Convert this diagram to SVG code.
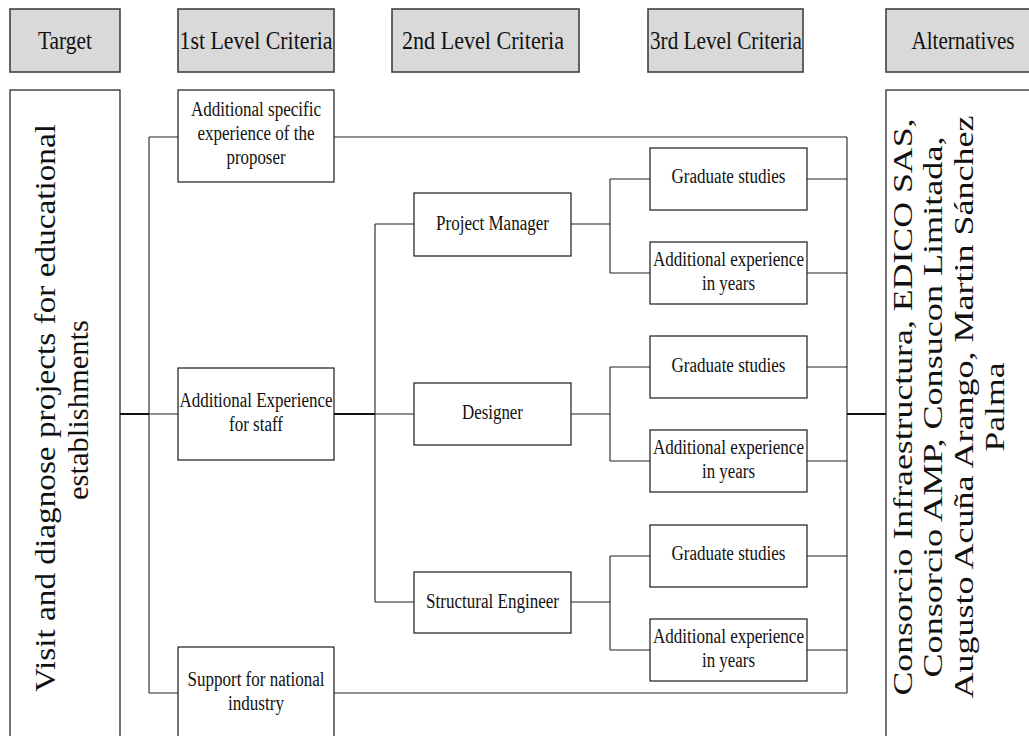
<svg xmlns="http://www.w3.org/2000/svg" width="1029" height="736" viewBox="0 0 1029 736">
<style>
.hdr{fill:#d9d9d9;stroke:#404040;stroke-width:1.6}
.box{fill:#fff;stroke:#1a1a1a;stroke-width:1.2}
.t{font-family:"Liberation Serif","Times New Roman",serif;font-size:20px;fill:#111;text-anchor:middle}
.h{font-size:25.5px}
.big{font-size:29px}
.alt{font-size:27.5px}
.c{fill:none;stroke:#222;stroke-width:1.1}
.ct{fill:none;stroke:#111;stroke-width:2}
</style>
<rect width="1029" height="736" fill="#fff"/>

<g id="hdr-target"><rect class="hdr" x="10" y="9" width="110" height="63"/><text class="t h" x="65" y="49" textLength="54" lengthAdjust="spacingAndGlyphs">Target</text></g>
<g id="hdr-level1"><rect class="hdr" x="178" y="9" width="156" height="63"/><text class="t h" x="256" y="49" textLength="153" lengthAdjust="spacingAndGlyphs">1st Level Criteria</text></g>
<g id="hdr-level2"><rect class="hdr" x="392" y="9" width="187" height="63"/><text class="t h" x="483" y="49" textLength="162" lengthAdjust="spacingAndGlyphs">2nd Level Criteria</text></g>
<g id="hdr-level3"><rect class="hdr" x="648" y="9" width="155" height="63"/><text class="t h" x="726" y="49" textLength="152" lengthAdjust="spacingAndGlyphs">3rd Level Criteria</text></g>
<g id="hdr-alternatives"><rect class="hdr" x="886" y="9" width="160" height="63"/><text class="t h" x="963" y="49" textLength="103" lengthAdjust="spacingAndGlyphs">Alternatives</text></g>

<g id="connectors">
<path class="c" d="M149,137V693 M149,137H178 M149,693H178 M149,414H178 M334,137H847 M334,693H847 M847,137V693"/>
<path class="ct" d="M120,414H149 M334,414H375 M847,414H886"/>
<path class="c" d="M375,224V602 M375,224H414 M375,414H414 M375,602H414"/>
<path class="c" d="M571,224H610 M610,179V273 M610,179H650 M610,273H650"/>
<path class="c" d="M571,414H610 M610,367V461 M610,367H650 M610,461H650"/>
<path class="c" d="M571,602H610 M610,556V650 M610,556H650 M610,650H650"/>
<path class="c" d="M807,179H847 M807,273H847 M807,367H847 M807,461H847 M807,556H847 M807,650H847"/>
</g>

<g id="target">
<rect class="box" x="10" y="90" width="110" height="660"/>
<text class="t big" transform="translate(55,408) rotate(-90)" textLength="568" lengthAdjust="spacingAndGlyphs">Visit and diagnose projects for educational</text>
<text class="t big" transform="translate(88,410) rotate(-90)" textLength="180" lengthAdjust="spacingAndGlyphs">establishments</text>
</g>

<g id="alternatives">
<rect class="box" x="886" y="90" width="160" height="660"/>
<text class="t alt" transform="translate(912,407) rotate(-90)" textLength="577" lengthAdjust="spacingAndGlyphs">Consorcio Infraestructura, EDICO SAS,</text>
<text class="t alt" transform="translate(942,407) rotate(-90)" textLength="541" lengthAdjust="spacingAndGlyphs">Consorcio AMP, Consucon Limitada,</text>
<text class="t alt" transform="translate(973,407) rotate(-90)" textLength="583" lengthAdjust="spacingAndGlyphs">Augusto Acuña Arango, Martin Sánchez</text>
<text class="t alt" transform="translate(1004,407) rotate(-90)" textLength="89" lengthAdjust="spacingAndGlyphs">Palma</text>
</g>

<g id="specific-experience">
<rect class="box" x="178" y="90" width="156" height="92"/>
<text class="t" x="256" y="116" textLength="130" lengthAdjust="spacingAndGlyphs">Additional specific</text>
<text class="t" x="256" y="140" textLength="117" lengthAdjust="spacingAndGlyphs">experience of the</text>
<text class="t" x="256" y="164" textLength="59" lengthAdjust="spacingAndGlyphs">proposer</text>
</g>

<g id="staff-experience">
<rect class="box" x="178" y="368" width="156" height="92"/>
<text class="t" x="256" y="407" textLength="153" lengthAdjust="spacingAndGlyphs">Additional Experience</text>
<text class="t" x="256" y="431" textLength="54" lengthAdjust="spacingAndGlyphs">for staff</text>
</g>

<g id="national-industry">
<rect class="box" x="178" y="647" width="156" height="100"/>
<text class="t" x="256" y="686" textLength="137" lengthAdjust="spacingAndGlyphs">Support for national</text>
<text class="t" x="256" y="710" textLength="56" lengthAdjust="spacingAndGlyphs">industry</text>
</g>

<g id="project-manager">
<rect class="box" x="414" y="193" width="157" height="63"/>
<text class="t" x="492.5" y="230" textLength="113" lengthAdjust="spacingAndGlyphs">Project Manager</text>
</g>
<g id="designer">
<rect class="box" x="414" y="383" width="157" height="62"/>
<text class="t" x="492.5" y="419" textLength="61" lengthAdjust="spacingAndGlyphs">Designer</text>
</g>
<g id="structural-engineer">
<rect class="box" x="414" y="572" width="157" height="61"/>
<text class="t" x="492.5" y="608" textLength="133" lengthAdjust="spacingAndGlyphs">Structural Engineer</text>
</g>

<g id="pm-graduate">
<rect class="box" x="650" y="148" width="157" height="62"/>
<text class="t" x="728.5" y="183" textLength="114" lengthAdjust="spacingAndGlyphs">Graduate studies</text>
</g>
<g id="pm-experience">
<rect class="box" x="650" y="242" width="157" height="62"/>
<text class="t" x="728.5" y="266" textLength="151" lengthAdjust="spacingAndGlyphs">Additional experience</text>
<text class="t" x="728.5" y="290" textLength="53" lengthAdjust="spacingAndGlyphs">in years</text>
</g>
<g id="designer-graduate">
<rect class="box" x="650" y="336" width="157" height="62"/>
<text class="t" x="728.5" y="372" textLength="114" lengthAdjust="spacingAndGlyphs">Graduate studies</text>
</g>
<g id="designer-experience">
<rect class="box" x="650" y="430" width="157" height="62"/>
<text class="t" x="728.5" y="454" textLength="151" lengthAdjust="spacingAndGlyphs">Additional experience</text>
<text class="t" x="728.5" y="478" textLength="53" lengthAdjust="spacingAndGlyphs">in years</text>
</g>
<g id="se-graduate">
<rect class="box" x="650" y="525" width="157" height="62"/>
<text class="t" x="728.5" y="560" textLength="114" lengthAdjust="spacingAndGlyphs">Graduate studies</text>
</g>
<g id="se-experience">
<rect class="box" x="650" y="619" width="157" height="62"/>
<text class="t" x="728.5" y="643" textLength="151" lengthAdjust="spacingAndGlyphs">Additional experience</text>
<text class="t" x="728.5" y="667" textLength="53" lengthAdjust="spacingAndGlyphs">in years</text>
</g>
</svg>
